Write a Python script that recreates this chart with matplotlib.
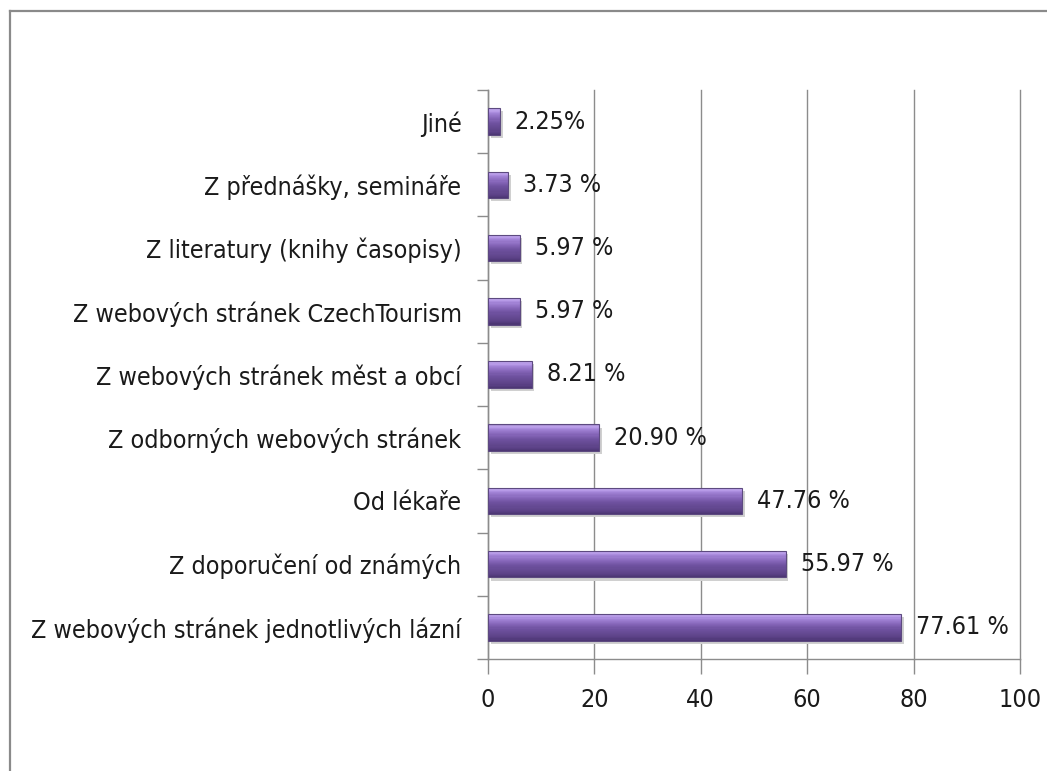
import matplotlib
matplotlib.use("Agg")
import matplotlib.pyplot as plt
from matplotlib.lines import Line2D
from matplotlib.colors import LinearSegmentedColormap
import numpy as np

categories = [
    "Z webových stránek jednotlivých lázní",
    "Z doporučení od známých",
    "Od lékaře",
    "Z odborných webových stránek",
    "Z webových stránek měst a obcí",
    "Z webových stránek CzechTourism",
    "Z literatury (knihy časopisy)",
    "Z přednášky, semináře",
    "Jiné",
]
values = [77.61, 55.97, 47.76, 20.90, 8.21, 5.97, 5.97, 3.73, 2.25]
value_labels = ["77.61 %", "55.97 %", "47.76 %", "20.90 %", "8.21 %",
                "5.97 %", "5.97 %", "3.73 %", "2.25%"]
x_ticks = [0, 20, 40, 60, 80, 100]

plt.rcParams['font.family'] = ['DejaVu Sans']
plt.rcParams['font.stretch'] = 'condensed'
FS = 18

fig = plt.figure(figsize=(10.47, 7.71), dpi=100)
ax = fig.add_axes([488/1047, 1-659/771, (1020-488)/1047, (659-90)/771])

pos = np.arange(len(categories))
h = 0.42
grid_c = '#8c8c8c'

cmap = LinearSegmentedColormap.from_list('bev', [
    (0.0, '#4a3470'), (0.12, '#5b4186'), (0.45, '#6f52a0'),
    (0.62, '#8565b8'), (0.82, '#a283d6'), (0.93, '#bfa3ee'), (1.0, '#a890d0')])
N = 24
sh = h / N
ax.barh(pos - 0.05, values, height=h, left=0.5, color='#d0d0d0', zorder=2)
for k in range(N):
    frac = (k + 0.5) / N
    ax.barh(pos - h/2 + (k + 0.5) * sh, values, height=sh * 1.02,
            color=cmap(frac), linewidth=0, zorder=3)
ax.barh(pos, values, height=h, facecolor='none', edgecolor='#5d4a80',
        linewidth=0.8, zorder=4)

for p, v, lab in zip(pos, values, value_labels):
    ax.text(v + 2.8, p, lab, va='center', ha='left', fontsize=FS,
            fontstretch='condensed', color='#1a1a1a', zorder=5)

ax.set_xlim(0, 100)
ax.set_ylim(-0.5, len(categories) - 0.5)
ax.set_xticks(x_ticks)
ax.set_xticklabels([str(t) for t in x_ticks], fontsize=FS,
                   fontstretch='condensed', color='#1a1a1a')
ax.set_yticks(pos)
ax.set_yticklabels(categories, fontsize=FS, fontstretch='condensed',
                   color='#1a1a1a')
ax.tick_params(axis='y', length=0, pad=19)
ax.set_yticks(np.arange(-0.5, len(categories), 1), minor=True)
ax.tick_params(axis='y', which='minor', length=8, color=grid_c, width=1)
ax.tick_params(axis='x', length=11, color=grid_c, width=1, pad=10)
ax.xaxis.grid(True, color=grid_c, linewidth=1)
for gl in ax.get_xgridlines():
    gl.set_clip_on(False)
ax.set_axisbelow(True)
for s in ['top', 'right']:
    ax.spines[s].set_visible(False)
for s in ['left', 'bottom']:
    ax.spines[s].set_color(grid_c)
    ax.spines[s].set_linewidth(1)

fx = 9.5 / 1047
fy = 1 - 10.5 / 771
fig.add_artist(Line2D([fx, fx], [0, fy], transform=fig.transFigure,
                      color='#8a8a8a', linewidth=1.6))
fig.add_artist(Line2D([fx, 1], [fy, fy], transform=fig.transFigure,
                      color='#8a8a8a', linewidth=1.6))

fig.savefig('out.png', dpi=100)
